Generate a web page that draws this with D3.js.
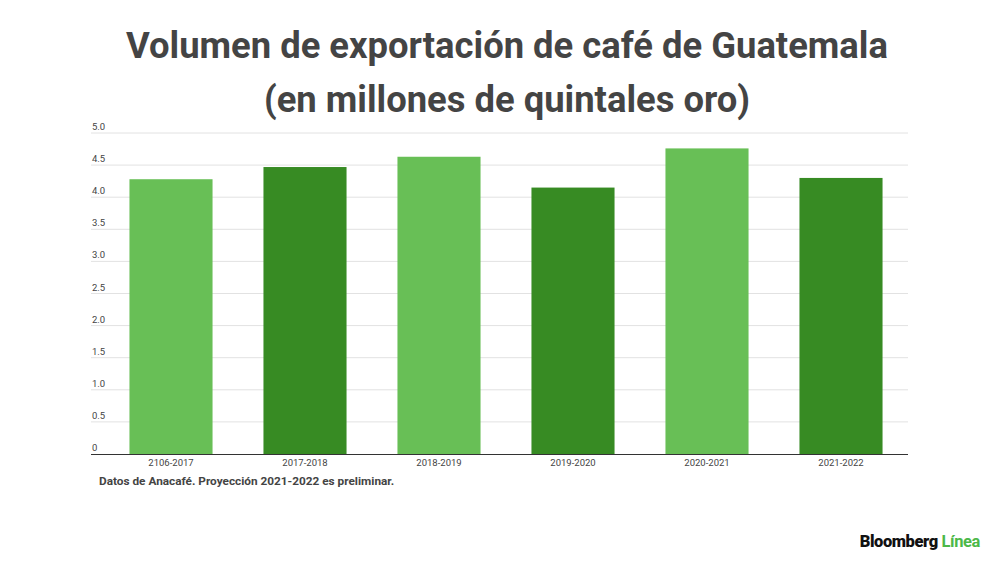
<!DOCTYPE html>
<html>
<head>
<meta charset="utf-8">
<script src="https://cdn.jsdelivr.net/npm/d3@7"></script>
<style>
  body { margin: 0; background: #fff; }
  svg { font-family: Roboto, "Noto Sans", sans-serif; }
</style>
</head>
<body>
<svg id="chart" width="1000" height="562"></svg>
<script>
// data
const categories = ['2106-2017', '2017-2018', '2018-2019', '2019-2020', '2020-2021', '2021-2022'];
const values = [4.28, 4.47, 4.63, 4.15, 4.76, 4.30];
const barColors = ['#68bf56', '#378b23', '#68bf56', '#378b23', '#68bf56', '#378b23'];
const yTicks = [0, 0.5, 1, 1.5, 2, 2.5, 3, 3.5, 4, 4.5, 5];

const svg = d3.select('#chart');

const plot = { left: 91, right: 908, top: 133, bottom: 454 };

const x = d3.scaleBand()
  .domain(categories)
  .range([104, 908])
  .paddingInner(0.38)
  .paddingOuter(0.19);

const y = d3.scaleLinear()
  .domain([0, 5])
  .range([plot.bottom, plot.top]);

// title
svg.append('text')
  .attr('x', 507).attr('y', 58)
  .attr('text-anchor', 'middle')
  .style('font-size', '36.4px').style('font-weight', 'bold')
  .attr('fill', '#444')
  .text('Volumen de exportación de café de Guatemala');
svg.append('text')
  .attr('x', 507).attr('y', 112)
  .attr('text-anchor', 'middle')
  .style('font-size', '36.4px').style('font-weight', 'bold')
  .attr('fill', '#444')
  .text('(en millones de quintales oro)');

// grid
let grid = svg.append('g').attr('class', 'grid')
grid.selectAll('line')
  .data(yTicks.filter(d => d > 0))
  .enter().append('line')
  .attr('x1', plot.left).attr('x2', plot.right)
  .attr('y1', d => y(d)).attr('y2', d => y(d))
  .attr('stroke', '#e2e2e2')
  .attr('stroke-width', 1)

grid.selectAll('text')
  .data(yTicks)
  .enter().append('text')
  .attr('x', 92)
  .attr('y', d => y(d) - 3)
  .style('font-size', '9.5px')
  .attr('fill', '#444')
  .text(d => d === 0 ? '0' : d3.format('.1f')(d))

// bars
svg.append('g').selectAll('rect')
  .data(values)
  .enter().append('rect')
  .attr('x', (d, i) => x(categories[i]))
  .attr('y', d => y(d))
  .attr('width', x.bandwidth())
  .attr('height', d => y(0) - y(d))
  .attr('fill', (d, i) => barColors[i])

// x axis line
svg.append('line')
  .attr('x1', plot.left).attr('x2', plot.right)
  .attr('y1', plot.bottom + 0.5).attr('y2', plot.bottom + 0.5)
  .attr('stroke', '#333').attr('stroke-width', 1.2)

svg.append('g').selectAll('text')
  .data(categories)
  .enter().append('text')
  .attr('x', d => x(d) + x.bandwidth() / 2)
  .attr('y', 465.5)
  .attr('text-anchor', 'middle')
  .style('font-size', '9.5px')
  .attr('fill', '#444')
  .text(d => d)

// note
svg.append('text')
  .attr('x', 99).attr('y', 485)
  .style('font-size', '11.8px').style('font-weight', 'bold')
  .attr('fill', '#444')
  .text('Datos de Anacafé. Proyección 2021-2022 es preliminar.')

// logo
let logo = svg.append('text')
  .attr('x', 980).attr('y', 547)
  .attr('text-anchor', 'end')
  .style('font-size', '16.5px').style('font-weight', '900')
  .style('letter-spacing', '-0.4px')
logo.append('tspan').attr('fill', '#111').text('Bloomberg ')
logo.append('tspan').attr('fill', '#4cb848').style('font-weight', 'bold').text('Línea')
</script>
</body>
</html>
